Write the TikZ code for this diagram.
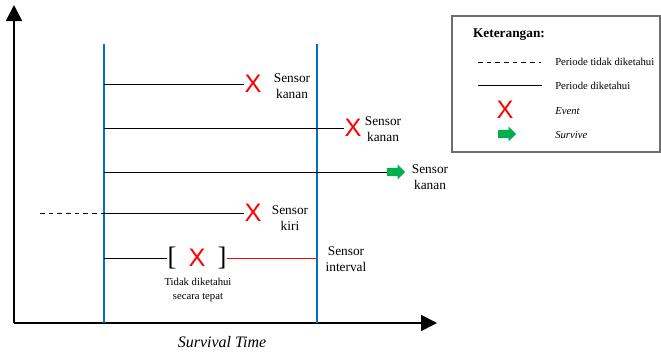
\documentclass[tikz,border=0pt]{standalone}
\usepackage{fontspec}
\setmainfont{Liberation Serif}
\newfontfamily\xmarkfont{Liberation Sans}
\usetikzlibrary{positioning, arrows.meta, shapes.arrows}
\definecolor{timeblue}{RGB}{0,112,192}
\definecolor{eventred}{RGB}{255,0,0}
\definecolor{survgreen}{RGB}{0,176,80}
\definecolor{framegray}{RGB}{110,110,110}

\begin{document}
\begin{tikzpicture}[x=0.75pt, y=-0.75pt,
    lbl/.style={align=center, font=\fontsize{10}{12}\selectfont, inner sep=0pt},
    note/.style={align=center, font=\fontsize{8}{10.5}\selectfont, inner sep=0pt},
    legtext/.style={anchor=west, font=\fontsize{8}{10}\selectfont, inner sep=0pt},
    event/.style={text=eventred, font=\xmarkfont\fontsize{19}{19}\selectfont, inner sep=0pt},
    brack/.style={font=\fontsize{20}{20}\selectfont, inner sep=0pt},
    surv/.style={single arrow, fill=survgreen, draw=none, inner xsep=0pt, inner ysep=2.9pt,
                text height=0pt, text depth=0pt, minimum height=13.5pt,
                single arrow head extend=2.5pt},
    axis/.style={line width=1.2pt, -{Triangle[width=12pt,length=12pt]}},
    obs/.style={line width=1.5pt, color=timeblue},
    known/.style={line width=0.75pt},
    unknown/.style={line width=0.75pt, dash pattern=on 3.5pt off 3pt}]

  \useasboundingbox (0,0) rectangle (661,354);

  % axes
  \coordinate (orig) at (14,323);
  \coordinate (ytip) at (14,5);
  \coordinate (xtip) at (437,323);
  \draw[axis] (orig) -- (ytip);
  \draw[axis] (orig) -- (xtip);
  \node[font=\fontsize{12}{12}\selectfont\itshape, inner sep=0pt] (xlab) at (222,342) {Survival Time};

  % observation window
  \coordinate (start) at (104,44);
  \coordinate (stop) at (317,44);
  \draw[obs] (start) -- (start |- orig);
  \draw[obs] (stop) -- (stop |- orig);

  % subjects
  \node[event] (ev1) at (253,84) {X};
  \node[lbl] (s1) at (292,86) {Sensor\\kanan};
  \node[event] (ev2) at (353,128) {X};
  \node[lbl] (s2) at (383,129) {Sensor\\kanan};
  \node[surv] (sv3) at (394,172) {};
  \node[lbl] (s3) at (430,177) {Sensor\\kanan};
  \node[event] (ev4) at (253,213) {X};
  \node[lbl] (s4) at (290,218) {Sensor\\kiri};
  \coordinate (left4) at (40,213);
  \node[brack] (lb) at (172,258) {[};
  \node[event] (ev5) at (197,258) {X};
  \node[brack] (rb) at (222,258) {]};
  \node[lbl] (s5) at (346,259) {Sensor\\interval};
  \node[note] (n5) at (198,290) {Tidak diketahui\\secara tepat};

  \draw[known] (start |- ev1) -- (ev1.west);
  \draw[known] (start |- ev2) -- (ev2.west);
  \draw[known] (start |- sv3) -- (sv3.west);
  \draw[unknown] (left4) -- (start |- left4);
  \draw[known] (start |- ev4) -- (ev4.west);
  \draw[known] (start |- lb) -- (lb.west);
  \draw[known, color=eventred] (rb.east) -- (stop |- rb);

  % legend
  \draw[line width=1pt, color=framegray] (452,16) rectangle (660,152);
  \node[font=\fontsize{10}{10}\selectfont\bfseries, inner sep=0pt] (leg) at (509,35) {Keterangan:};
  \coordinate (d1) at (478,62);
  \coordinate (d2) at (541,62);
  \draw[unknown] (d1) -- (d2);
  \node[legtext] (t1) at (555,62) {Periode tidak diketahui};
  \coordinate (k1) at (478,85);
  \coordinate (k2) at (542,85);
  \draw[known] (k1) -- (k2);
  \node[legtext] (t2) at (555,86) {Periode diketahui};
  \node[event] (lev) at (505,110) {X};
  \node[legtext, font=\fontsize{8}{10}\selectfont\itshape] (t3) at (555,111) {Event};
  \node[surv] (lsv) at (505,134) {};
  \node[legtext, font=\fontsize{8}{10}\selectfont\itshape] (t4) at (555,135) {Survive};
\end{tikzpicture}
\end{document}
